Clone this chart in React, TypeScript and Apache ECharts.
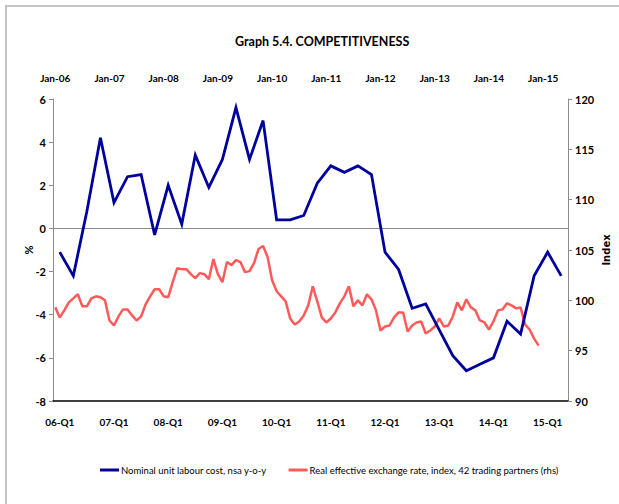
import React, { useEffect, useRef } from "react";
import * as echarts from "echarts";

const TITLE = "Graph 5.4. COMPETITIVENESS";
const SERIES_NAMES = [
  "Nominal unit labour cost, nsa y-o-y",
  "Real effective exchange rate, index, 42 trading partners (rhs)",
];
const YEARS = [2006, 2007, 2008, 2009, 2010, 2011, 2012, 2013, 2014, 2015];
const LAST_MONTH_2015 = 6;
const TOP_LABELS = ["Jan-06", "Jan-07", "Jan-08", "Jan-09", "Jan-10", "Jan-11", "Jan-12", "Jan-13", "Jan-14", "Jan-15"];
const BOTTOM_LABELS = ["06-Q1", "07-Q1", "08-Q1", "09-Q1", "10-Q1", "11-Q1", "12-Q1", "13-Q1", "14-Q1", "15-Q1"];

// Quarterly, y-o-y % (plotted mid-quarter), 2006-Q1 .. 2015-Q2
const ULC_VALUES = [
  -1.1, -2.2, 0.8, 4.2, 1.2, 2.4, 2.5, -0.3, 2.0, 0.2,
  3.4, 1.9, 3.2, 5.6, 3.2, 5.0, 0.4, 0.4, 0.6, 2.1,
  2.9, 2.6, 2.9, 2.5, -1.1, -1.9, -3.7, -3.5, -4.7, -5.9,
  -6.6, -6.3, -6.0, -4.3, -4.9, -2.2, -1.1, -2.2,
];

// Monthly REER index, Jan-06 .. Dec-14
const REER_VALUES = [
  99.3, 98.3, 99.0, 99.8, 100.2, 100.6, 99.4, 99.4, 100.2, 100.4, 100.3, 100.0,
  98.0, 97.5, 98.4, 99.1, 99.1, 98.5, 98.0, 98.4, 99.6, 100.4, 101.1, 101.1,
  100.4, 100.3, 101.8, 103.2, 103.1, 103.1, 102.6, 102.2, 102.7, 102.6, 102.1, 104.1,
  102.6, 101.8, 103.8, 103.5, 104.0, 103.8, 102.8, 102.9, 103.7, 105.1, 105.4, 104.3,
  102.0, 100.9, 100.4, 99.9, 98.2, 97.6, 97.9, 98.5, 99.5, 101.4, 99.9, 98.3,
  97.8, 98.2, 98.8, 99.7, 100.4, 101.4, 99.4, 100.0, 99.5, 100.6, 100.1, 99.0,
  97.0, 97.4, 97.5, 98.3, 98.8, 98.8, 96.9, 97.5, 97.8, 97.9, 96.7, 97.0,
  97.4, 98.2, 97.4, 97.5, 98.4, 99.8, 99.0, 100.1, 99.3, 99.0, 98.0, 97.8,
  97.1, 97.9, 99.0, 99.1, 99.7, 99.5, 99.2, 99.3, 97.6, 97.1, 96.2, 95.5,
];

const LEFT_AXIS = { min: -8, max: 6, interval: 2 };
const RIGHT_AXIS = { min: 90, max: 120, interval: 5 };

const FONT = "Lato, 'DejaVu Sans Condensed', sans-serif";
const BLUE = "#00009C";
const RED = "#FF5A5A";
const GREY = "#8C8C8C";

export default function App() {
  const ref = useRef<HTMLDivElement>(null);

  useEffect(() => {
    if (!ref.current) return;
    const chart = echarts.init(ref.current, undefined, { renderer: "svg" });

    const months: string[] = [];
    YEARS.forEach((y) => {
      const last = y === 2015 ? LAST_MONTH_2015 : 12;
      for (let m = 1; m <= last; m++) months.push(`${y}-${m < 10 ? "0" + m : m}`);
    });
    const ulcData = ULC_VALUES.map((v, i) => [months[1 + 3 * i], v]);
    const reerData = REER_VALUES.map((v, i) => [months[i], v]);

    const axisLabelBase = {
      color: "#000",
      fontWeight: "bold" as const,
      fontFamily: FONT,
    };

    chart.setOption({
      animation: false,
      backgroundColor: "#fff",
      title: {
        text: TITLE,
        left: 230,
        top: 30,
        textStyle: { fontFamily: FONT, fontWeight: "bold", fontSize: 12.5, color: "#000" },
      },
      graphic: [
        {
          type: "rect",
          shape: { x: 6, y: 6, width: 700, height: 600 },
          style: { fill: "none", stroke: "#C4C4C4", lineWidth: 2 },
          silent: true,
        },
      ],
      legend: {
        left: 95,
        top: 460,
        width: 560,
        itemWidth: 19,
        itemHeight: 3,
        itemGap: 22,
        icon: "rect",
        textStyle: { fontFamily: FONT, fontSize: 9.5, color: "#000", padding: [0, 0, 0, -3] },
        data: SERIES_NAMES,
      },
      grid: { left: 53, right: 46, top: 99, bottom: 103, containLabel: false },
      xAxis: [
        {
          type: "category",
          position: "top",
          data: months,
          boundaryGap: true,
          axisLine: { show: true, lineStyle: { color: GREY, width: 1 } },
          axisTick: { show: false },
          axisLabel: {
            ...axisLabelBase,
            fontSize: 10,
            margin: 16,
            interval: (index: number) => index % 12 === 0,
            formatter: (_v: string, index: number) => (index % 12 === 0 ? TOP_LABELS[index / 12] : ""),
          },
          splitLine: { show: false },
        },
        {
          type: "category",
          position: "bottom",
          data: months,
          boundaryGap: true,
          axisLine: { show: true, onZero: false, lineStyle: { color: "#000", width: 1.5 } },
          axisTick: { show: false },
          axisLabel: {
            ...axisLabelBase,
            fontSize: 10,
            margin: 16,
            interval: (index: number) => index % 12 === 1,
            formatter: (_v: string, index: number) => (index % 12 === 1 ? BOTTOM_LABELS[(index - 1) / 12] : ""),
          },
          splitLine: { show: false },
        },
      ],
      yAxis: [
        {
          type: "value",
          position: "left",
          min: LEFT_AXIS.min,
          max: LEFT_AXIS.max,
          interval: LEFT_AXIS.interval,
          name: "%",
          nameLocation: "middle",
          nameRotate: 90,
          nameGap: 19,
          nameMoveOverlap: false,
          nameTextStyle: { fontFamily: FONT, fontWeight: "bold", fontSize: 11, color: "#000" },
          axisLine: { show: true, lineStyle: { color: GREY } },
          axisTick: { show: true, inside: false, length: 4, lineStyle: { color: GREY } },
          axisLabel: { ...axisLabelBase, fontSize: 11, margin: 7 },
          splitLine: { show: false },
        },
        {
          type: "value",
          position: "right",
          min: RIGHT_AXIS.min,
          max: RIGHT_AXIS.max,
          interval: RIGHT_AXIS.interval,
          name: "Index",
          nameLocation: "middle",
          nameRotate: 90,
          nameGap: 33,
          nameMoveOverlap: false,
          nameTextStyle: { fontFamily: "'DejaVu Sans', sans-serif", fontWeight: "bold", fontSize: 10, color: "#000" },
          axisLine: { show: true, lineStyle: { color: GREY } },
          axisTick: { show: true, inside: false, length: 4, lineStyle: { color: GREY } },
          axisLabel: { ...axisLabelBase, fontSize: 11, margin: 7 },
          splitLine: { show: false },
        },
      ],
      series: [
        {
          name: SERIES_NAMES[0],
          type: "line",
          xAxisIndex: 1,
          yAxisIndex: 0,
          data: ulcData,
          showSymbol: false,
          symbol: "none",
          connectNulls: true,
          lineStyle: { color: BLUE, width: 2.8, join: "miter" },
          itemStyle: { color: BLUE },
          z: 3,
          markLine: {
            silent: true,
            symbol: "none",
            label: { show: false },
            lineStyle: { color: GREY, width: 1, type: "solid" },
            data: [{ yAxis: 0 }],
            z: 1,
          },
        },
        {
          name: SERIES_NAMES[1],
          type: "line",
          xAxisIndex: 0,
          yAxisIndex: 1,
          data: reerData,
          showSymbol: false,
          symbol: "none",
          lineStyle: { color: RED, width: 2.5 },
          itemStyle: { color: RED },
          z: 2,
        },
      ],
    });

    return () => chart.dispose();
  }, []);

  return (
    <div
      ref={ref}
      style={{ position: "absolute", left: 0, top: 0, width: 619, height: 504 }}
    />
  );
}
